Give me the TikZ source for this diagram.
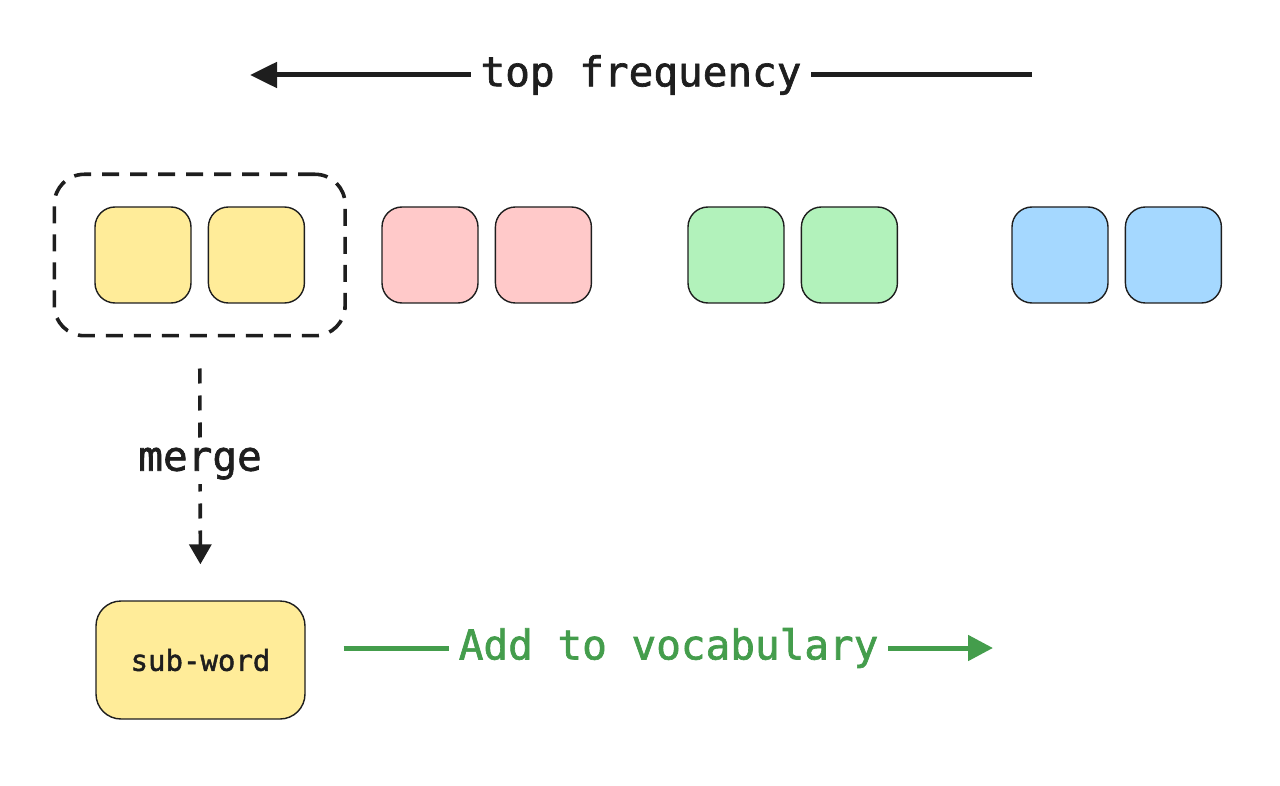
\documentclass[tikz,border=0pt]{standalone}
\usepackage{fontspec}
\setmonofont{DejaVu Sans Mono}[BoldFont={DejaVu Sans Mono}, BoldFeatures={FakeBold=1.6}]
\usepackage{tikz}
\usetikzlibrary{arrows.meta, positioning, fit, calc}

\definecolor{inkgray}{HTML}{1E1E1E}
\definecolor{tokyellow}{HTML}{FFEC99}
\definecolor{tokred}{HTML}{FFC9C9}
\definecolor{tokgreen}{HTML}{B2F2BB}
\definecolor{tokblue}{HTML}{A5D8FF}
\definecolor{addgreen}{RGB}{68,157,76}

\tikzset{
  token/.style={draw=inkgray, line width=1.4pt, rounded corners=20pt,
    minimum width=96pt, minimum height=96pt, inner sep=0pt},
  bigtext/.style={font=\ttfamily\bfseries\fontsize{41}{41}\selectfont, text=inkgray,
    fill=white, inner xsep=10pt, inner ysep=4pt},
}

\begin{document}
\begin{tikzpicture}[x=1pt,y=-1pt]
  \useasboundingbox (0,0) rectangle (1280,786);

  % frequency arrow
  \coordinate (freqR) at (1032,75);
  \coordinate (freqL) at (250,75);
  \draw[line width=5pt, inkgray, -{Triangle[length=27pt,width=25pt]}]
    (freqR) -- node[bigtext] (freqlabel) {top frequency} (freqL);

  % token pairs
  \node[token, fill=tokyellow] (yellowA) at (143,255) {};
  \node[token, fill=tokyellow, right=16pt of yellowA] (yellowB) {};

  \node[token, fill=tokred] (redA) at (430,255) {};
  \node[token, fill=tokred, right=16pt of redA] (redB) {};

  \node[token, fill=tokgreen] (greenA) at (736,255) {};
  \node[token, fill=tokgreen, right=16pt of greenA] (greenB) {};

  \node[token, fill=tokblue] (blueA) at (1060,255) {};
  \node[token, fill=tokblue, right=16pt of blueA] (blueB) {};

  % selected pair
  \node[draw=inkgray, line width=3.6pt, dash pattern=on 17pt off 11pt,
    rounded corners=30pt, inner xsep=40pt, inner ysep=32pt,
    fit=(yellowA)(yellowB)] (pair) {};

  % merged sub-word
  \node[token, fill=tokyellow, minimum width=209pt, minimum height=118pt,
    rounded corners=25pt, font=\ttfamily\bfseries\fontsize{29}{29}\selectfont,
    text=inkgray] (subword) at (200.5,660) {sub-word};

  \draw[line width=3.6pt, inkgray, dash pattern=on 15pt off 12pt,
    shorten <=31pt, shorten >=36pt, -{Triangle[length=20pt,width=22pt]}]
    (pair.south) -- node[bigtext, inner xsep=2pt, pos=0.48] (mergelabel) {merge} (subword.north);

  % vocabulary arrow
  \coordinate (vocab) at (993,648);
  \draw[line width=5pt, addgreen, shorten <=38pt, -{Triangle[length=25pt,width=25pt]}]
    (subword.east |- vocab) -- node[bigtext, text=addgreen, pos=0.528] (vocablabel) {Add to vocabulary} (vocab);
\end{tikzpicture}
\end{document}
